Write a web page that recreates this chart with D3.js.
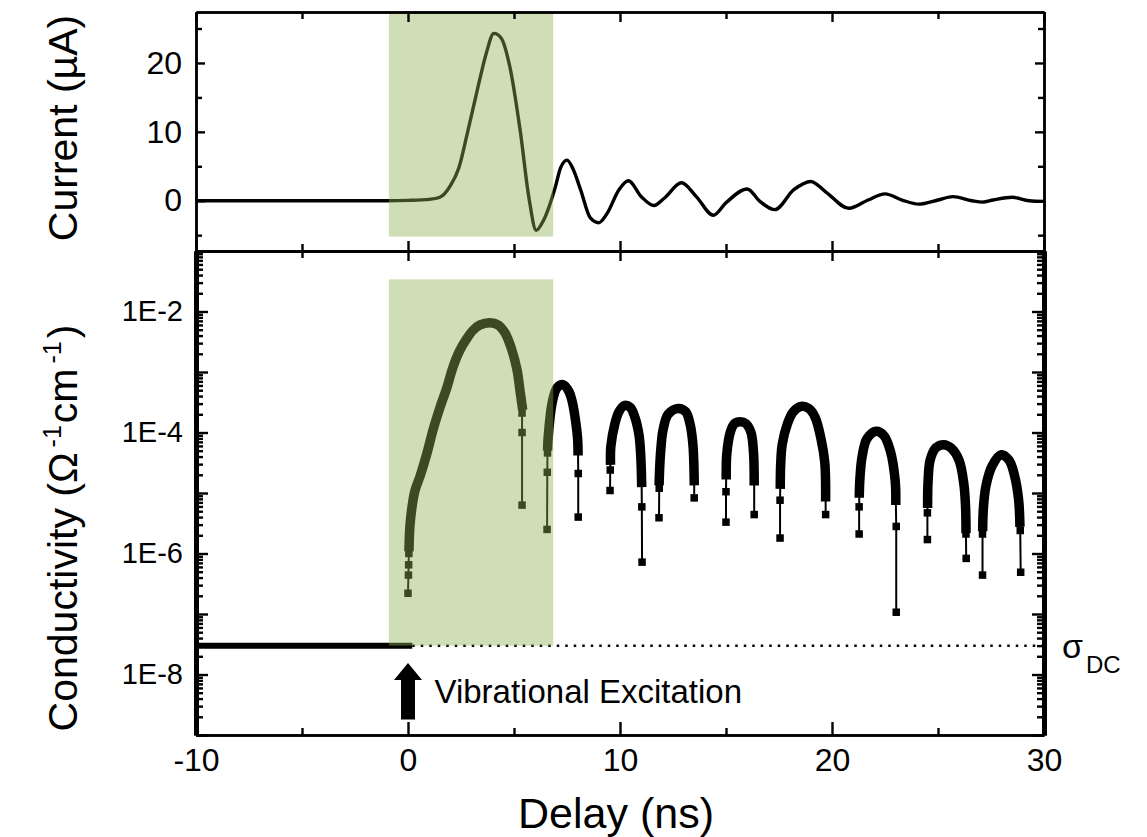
<!DOCTYPE html>
<html>
<head>
<meta charset="utf-8">
<script src="https://cdn.jsdelivr.net/npm/d3@7"></script>
<style>
body { margin: 0; background: #fff; }
text { font-family: "Liberation Sans", Arial, sans-serif; fill: #000; }
</style>
</head>
<body>
<svg id="chart" width="1147" height="837"></svg>
<script>
// upper panel: photocurrent (uA) vs delay (ns)
var delay = [-10, -5, -1, 0, 1.0, 1.5, 2.0, 2.4, 2.8, 3.3, 3.7, 4.05, 4.4, 4.8, 5.3, 5.7, 6.05, 6.4, 6.95, 7.2, 7.5, 7.8, 8.15, 8.6, 9.0, 9.4, 9.95, 10.4, 11.0, 11.6, 12.1, 12.9, 13.6, 14.4, 15.0, 16.0, 16.6, 17.3, 18.2, 19.0, 19.7, 20.8, 21.7, 22.5, 23.3, 24.1, 25.0, 25.7, 26.6, 27.1, 27.6, 28.5, 29.3, 30];
var current = [0, 0, 0, 0.05, 0.2, 0.5, 2.2, 4.8, 9.8, 16.5, 21.5, 24.3, 23.6, 19.5, 10, 0.5, -4.3, -2.8, 2, 4.8, 5.9, 4.5, 1.5, -2.5, -3.2, -1.8, 1.6, 2.9, 0.6, -0.7, 0.4, 2.6, 0.6, -2.1, -0.3, 1.7, -0.1, -1.3, 1.6, 2.8, 1.3, -1.1, 0.1, 1.0, 0.1, -0.5, 0.1, 0.6, 0.0, -0.2, 0.1, 0.5, 0.0, -0.1];

// lower panel: conductivity arches [delay, sigma], dense part of each arch
var archBodies = [
  [[0.05, 1.3e-6], [0.09, 2.8e-6], [0.19, 5.9e-6], [0.33, 1.1e-5], [0.57, 1.9e-5], [0.9, 4.6e-5], [1.18, 1.1e-4], [1.51, 2.6e-4], [1.84, 5.6e-4], [2.12, 1.2e-3], [2.45, 2.3e-3], [2.78, 3.6e-3], [3.07, 4.9e-3], [3.4, 6.0e-3], [3.87, 6.5e-3], [4.25, 6.0e-3], [4.58, 4.4e-3], [4.9, 2.3e-3], [5.14, 1.1e-3], [5.28, 5.0e-4], [5.38, 2.8e-4]],
  [[6.59, 6.0e-5], [6.62, 9.0e-5], [6.8, 3.1e-4], [7.03, 5.5e-4], [7.31, 6.2e-4], [7.6, 4.7e-4], [7.75, 3.2e-4], [7.9, 1.6e-4], [8.0, 7.9e-5], [8.02, 5.0e-5]],
  [[9.55, 3.5e-5], [9.57, 5.9e-5], [9.76, 1.4e-4], [9.95, 2.2e-4], [10.2, 2.8e-4], [10.48, 2.6e-4], [10.7, 1.8e-4], [10.9, 8.9e-5], [10.98, 4.0e-5], [11.02, 1.5e-5]],
  [[11.85, 1.6e-5], [11.88, 3.0e-5], [11.93, 5.5e-5], [12.03, 1.1e-4], [12.27, 2.0e-4], [12.74, 2.5e-4], [13.1, 2.2e-4], [13.3, 1.4e-4], [13.44, 6.3e-5], [13.5, 1.6e-5]],
  [[15.01, 2.0e-5], [15.04, 4.5e-5], [15.2, 1.0e-4], [15.4, 1.4e-4], [15.66, 1.5e-4], [15.94, 1.4e-4], [16.18, 1.0e-4], [16.3, 4.5e-5], [16.33, 1.6e-5]],
  [[17.56, 1.4e-5], [17.58, 3.0e-5], [17.65, 6.3e-5], [17.9, 1.4e-4], [18.17, 2.2e-4], [18.54, 2.7e-4], [18.9, 2.5e-4], [19.2, 1.8e-4], [19.48, 7.9e-5], [19.66, 3.2e-5], [19.7, 8.7e-6]],
  [[21.29, 1.0e-5], [21.32, 1.8e-5], [21.42, 4.0e-5], [21.65, 7.9e-5], [22.08, 1.05e-4], [22.45, 8.9e-5], [22.75, 5.0e-5], [22.98, 1.6e-5], [23.01, 7.6e-6]],
  [[24.51, 6.8e-6], [24.53, 1.5e-5], [24.63, 3.5e-5], [24.9, 5.6e-5], [25.28, 6.3e-5], [25.6, 5.6e-5], [25.99, 3.5e-5], [26.22, 1.4e-5], [26.3, 5.9e-6], [26.32, 2.6e-6]],
  [[27.11, 2.8e-6], [27.14, 5.5e-6], [27.26, 1.3e-5], [27.55, 2.8e-5], [27.98, 4.3e-5], [28.35, 3.5e-5], [28.6, 2.0e-5], [28.8, 7.9e-6], [28.86, 3.3e-6]]
];
// isolated samples before / after each dense part
var archLeftTails = [
  [[0.00, 2.2e-7], [0.02, 4.4e-7], [0.03, 6.5e-7], [0.04, 1.0e-6]],
  [[6.56, 2.5e-6], [6.57, 2.2e-5], [6.58, 4.6e-5]],
  [[9.53, 1.1e-5], [9.54, 2.4e-5]],
  [[11.84, 3.9e-6], [11.85, 1.2e-5]],
  [[15.0, 3.3e-6], [15.0, 1.05e-5]],
  [[17.55, 1.8e-6], [17.55, 7.6e-6]],
  [[21.28, 2.1e-6], [21.28, 5.9e-6]],
  [[24.5, 1.7e-6], [24.5, 4.7e-6]],
  [[27.1, 4.4e-7], [27.1, 2.1e-6]]
];
var archRightTails = [
  [[5.38, 2.1e-4], [5.38, 1.0e-4], [5.38, 6.3e-6]],
  [[8.03, 2.1e-5], [8.03, 4.0e-6]],
  [[11.03, 5.9e-6], [11.04, 7.2e-7]],
  [[13.5, 8.3e-6]],
  [[16.33, 4.4e-6]],
  [[19.7, 4.4e-6]],
  [[23.03, 2.8e-6], [23.03, 1.07e-7]],
  [[26.32, 2.1e-6], [26.33, 8.3e-7]],
  [[28.88, 2.4e-6], [28.9, 4.9e-7]]
];

var sigmaDC = 3e-8;
var dcDelay = [-10, 0.2];          // measured dark level before excitation
var shadeDelay = [-0.9, 6.85];     // green excitation window
var shadeCurrentBottom = -5.2;
var shadeSigmaTop = 3.4e-2;

var xMajor = [-10, 0, 10, 20, 30];
var xMinor = [-5, 5, 15, 25];
var curMajor = [0, 10, 20];
var curMinor = [-5, 5, 15, 25];
var sigLabels = [1e-2, 1e-4, 1e-6, 1e-8];

var svg = d3.select("#chart");

var x = d3.scaleLinear().domain([-10, 30]).range([196, 1044]);
var yTop = d3.scaleLinear().domain([-7.3, 27.4]).range([251, 12]);
var yLog = d3.scaleLog().domain([1e-9, 1e-1]).range([735, 251]);

// ---- curves ----
var curLine = d3.line()
    .x(function(d, i) { return x(delay[i]); })
    .y(function(d) { return yTop(d); })
    .curve(d3.curveMonotoneX);

svg.append("path")
    .datum(current)
    .attr("d", curLine)
    .attr("fill", "none")
    .attr("stroke", "#000")
    .attr("stroke-width", 3.4);

// dark conductivity level
var dcLine = d3.line().x(function(d) { return x(d); }).y(yLog(sigmaDC));
svg.append("path")
    .datum(dcDelay)
    .attr("d", dcLine)
    .attr("stroke", "#000")
    .attr("stroke-width", 6);
svg.append("path")
    .datum([dcDelay[1], 30])
    .attr("d", dcLine)
    .attr("stroke", "#000")
    .attr("stroke-width", 2.5)
    .attr("stroke-dasharray", "2.5,6");

var sigLine = d3.line()
    .x(function(d) { return x(d[0]); })
    .y(function(d) { return yLog(d[1]); });
var sigCurve = d3.line()
    .x(function(d) { return x(d[0]); })
    .y(function(d) { return yLog(d[1]); })
    .curve(d3.curveCatmullRom.alpha(0.5));

var arch = svg.selectAll("g.arch")
    .data(archBodies)
    .enter().append("g")
    .attr("class", "arch");

// thin connecting line through all samples
arch.append("path")
    .attr("d", function(d, i) { return sigLine(archLeftTails[i].concat(d, archRightTails[i])); })
    .attr("fill", "none")
    .attr("stroke", "#000")
    .attr("stroke-width", 2);

// dense part: overlapping markers form a ribbon
arch.append("path")
    .attr("d", sigCurve)
    .attr("fill", "none")
    .attr("stroke", "#000")
    .attr("stroke-width", 9.5)
    .attr("stroke-linecap", "square")
    .attr("stroke-linejoin", "round");

arch.selectAll("rect")
    .data(function(d, i) { return archLeftTails[i].concat(archRightTails[i]); })
    .enter().append("rect")
    .attr("x", function(d) { return x(d[0]) - 3.75; })
    .attr("y", function(d) { return yLog(d[1]) - 3.75; })
    .attr("width", 7.5)
    .attr("height", 7.5)
    .attr("fill", "#000");

// ---- green excitation window (translucent, over the curves) ----
var green = "rgba(141,177,83,0.42)";
svg.append("rect")
    .attr("x", x(shadeDelay[0]))
    .attr("width", x(shadeDelay[1]) - x(shadeDelay[0]))
    .attr("y", yTop.range()[1])
    .attr("height", yTop(shadeCurrentBottom) - yTop.range()[1])
    .attr("fill", green);
svg.append("rect")
    .attr("x", x(shadeDelay[0]))
    .attr("width", x(shadeDelay[1]) - x(shadeDelay[0]))
    .attr("y", yLog(shadeSigmaTop))
    .attr("height", yLog(sigmaDC) - yLog(shadeSigmaTop))
    .attr("fill", green);

// ---- axes ----
function addAxis(axis, tx, ty, fontSize, domainWidth) {
  var g = svg.append("g").attr("transform", "translate(" + tx + "," + ty + ")").call(axis);
  g.attr("font-family", null).attr("font-size", null);
  g.select(".domain").attr("stroke", "#000").attr("stroke-width", domainWidth || 2.5);
  g.selectAll(".tick line").attr("stroke", "#000").attr("stroke-width", 2.4);
  g.selectAll("text").style("font-size", fontSize + "px");
  return g;
}
var noLabel = function() { return ""; };
var xRight = x.range()[1], xLeft = x.range()[0];

// upper panel
addAxis(d3.axisLeft(yTop).tickValues(curMajor).tickSize(-9).tickSizeOuter(0).tickPadding(14).tickFormat(function(d) { return String(d); }), xLeft, 0, 32);
addAxis(d3.axisLeft(yTop).tickValues(curMinor).tickSize(-6).tickSizeOuter(0).tickFormat(noLabel), xLeft, 0, 10);
addAxis(d3.axisRight(yTop).tickValues(curMajor).tickSize(-9).tickSizeOuter(0).tickFormat(noLabel), xRight, 0, 10);
addAxis(d3.axisRight(yTop).tickValues(curMinor).tickSize(-6).tickSizeOuter(0).tickFormat(noLabel), xRight, 0, 10);
addAxis(d3.axisTop(x).tickValues(xMajor).tickSize(-10).tickSizeOuter(0).tickFormat(noLabel), 0, yTop.range()[1], 10);
addAxis(d3.axisTop(x).tickValues(xMinor).tickSize(-7).tickSizeOuter(0).tickFormat(noLabel), 0, yTop.range()[1], 10);
addAxis(d3.axisBottom(x).tickValues(xMajor).tickSize(-10).tickSizeOuter(0).tickFormat(noLabel), 0, yTop.range()[0], 10);
addAxis(d3.axisBottom(x).tickValues(xMinor).tickSize(-7).tickSizeOuter(0).tickFormat(noLabel), 0, yTop.range()[0], 10);

// lower panel
var logTicks = yLog.ticks();
var decades = logTicks.filter(function(d) { var e = Math.log10(d); return Math.abs(e - Math.round(e)) < 1e-9; });
var logMinor = logTicks.filter(function(d) { return decades.indexOf(d) < 0; });
var sigFormat = function(d) {
  var e = Math.round(Math.log10(d));
  return sigLabels.some(function(s) { return Math.abs(Math.log10(s) - e) < 1e-9; }) ? "1E" + e : "";
};
addAxis(d3.axisLeft(yLog).tickValues(decades).tickSize(-12).tickSizeOuter(0).tickPadding(13).tickFormat(sigFormat), xLeft, 0, 29, 5);
addAxis(d3.axisLeft(yLog).tickValues(logMinor).tickSize(-7).tickSizeOuter(0).tickFormat(noLabel), xLeft, 0, 10, 5);
addAxis(d3.axisRight(yLog).tickValues(decades).tickSize(-12).tickSizeOuter(0).tickFormat(noLabel), xRight, 0, 10, 5);
addAxis(d3.axisRight(yLog).tickValues(logMinor).tickSize(-7).tickSizeOuter(0).tickFormat(noLabel), xRight, 0, 10, 5);
addAxis(d3.axisTop(x).tickValues(xMajor).tickSize(-10).tickSizeOuter(0).tickFormat(noLabel), 0, yLog.range()[1], 10);
addAxis(d3.axisTop(x).tickValues(xMinor).tickSize(-7).tickSizeOuter(0).tickFormat(noLabel), 0, yLog.range()[1], 10);
addAxis(d3.axisBottom(x).tickValues(xMajor).tickSize(-13).tickSizeOuter(0).tickPadding(13).tickFormat(function(d) { return String(d); }), 0, yLog.range()[0], 32);
addAxis(d3.axisBottom(x).tickValues(xMinor).tickSize(-7).tickSizeOuter(0).tickFormat(noLabel), 0, yLog.range()[0], 10);

// ---- titles ----
svg.append("text")
    .attr("transform", "translate(77,128) rotate(-90)")
    .attr("text-anchor", "middle")
    .style("font-size", "41px")
    .text("Current (\u00b5A)");

var cond = svg.append("text")
    .attr("transform", "translate(77,528) rotate(-90)")
    .attr("text-anchor", "middle")
    .style("font-size", "41px");
cond.append("tspan").text("Conductivity (\u03a9");
cond.append("tspan").attr("dx", 5).attr("dy", -16).style("font-size", "25px").text("-1");
cond.append("tspan").attr("dx", 2).attr("dy", 16).text("cm");
cond.append("tspan").attr("dx", 5).attr("dy", -16).style("font-size", "25px").text("-1");
cond.append("tspan").attr("dx", 3).attr("dy", 16).text(")");

svg.append("text")
    .attr("x", 616)
    .attr("y", 828)
    .attr("text-anchor", "middle")
    .style("font-size", "43px")
    .text("Delay (ns)");

// sigma_DC label
var sdc = svg.append("text")
    .attr("x", xRight + 18)
    .attr("y", yLog(sigmaDC) + 12)
    .style("font-size", "34px");
sdc.append("tspan").text("\u03c3");
sdc.append("tspan").attr("dx", 3).attr("dy", 15).style("font-size", "24px").text("DC");

// excitation arrow
var ax = x(0), aTip = yLog(1.55e-8), aBase = yLog(1.8e-9);
svg.append("path")
    .attr("d", "M" + (ax - 7) + "," + aBase + "L" + (ax - 7) + "," + (aTip + 17) +
               "L" + (ax - 14) + "," + (aTip + 17) + "L" + ax + "," + aTip +
               "L" + (ax + 14) + "," + (aTip + 17) + "L" + (ax + 7) + "," + (aTip + 17) +
               "L" + (ax + 7) + "," + aBase + "Z")
    .attr("fill", "#000");

svg.append("text")
    .attr("x", x(1.25))
    .attr("y", yLog(3.4e-9))
    .style("font-size", "33px")
    .text("Vibrational Excitation");
</script>
</body>
</html>
